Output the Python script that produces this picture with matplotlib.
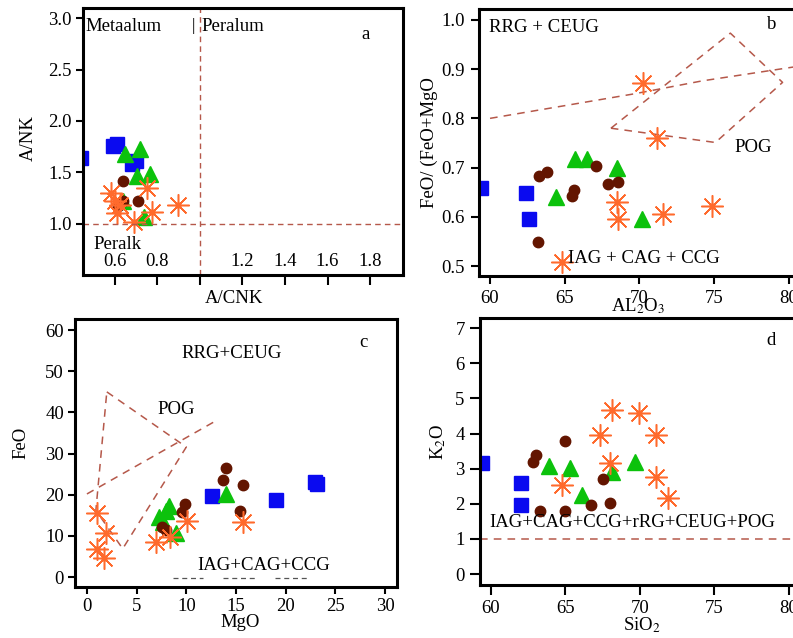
import numpy as np
import matplotlib.pyplot as plt

plt.rcParams["font.family"] = ["Liberation Serif", "DejaVu Serif"]
plt.rcParams["mathtext.fontset"] = "stix"
plt.rcParams["font.size"] = 13.5

# ---- panel a : A/CNK vs A/NK ----
a_sq_x = [0.44, 0.59, 0.61, 0.68, 0.70]
a_sq_y = [1.64, 1.76, 1.78, 1.58, 1.61]
a_tri_x = [0.648, 0.717, 0.704, 0.765, 0.64, 0.736]
a_tri_y = [1.68, 1.73, 1.46, 1.48, 1.22, 1.06]
a_cir_x = [0.637, 0.64, 0.709, 0.616]
a_cir_y = [1.42, 1.22, 1.22, 1.17]
a_ast_x = [0.584, 0.60, 0.608, 0.624, 0.688, 0.752, 0.776, 0.896]
a_ast_y = [1.30, 1.22, 1.10, 1.18, 1.02, 1.35, 1.11, 1.18]

# ---- panel b : Al2O3 vs FeO/(FeO+MgO) ----
b_sq_x = [59.4, 62.4, 62.6]
b_sq_y = [0.658, 0.649, 0.596]
b_tri_x = [65.7, 66.5, 68.5, 64.4, 70.2]
b_tri_y = [0.718, 0.717, 0.700, 0.640, 0.595]
b_cir_x = [63.3, 63.8, 67.1, 65.6, 65.5, 67.9, 68.6, 63.2]
b_cir_y = [0.684, 0.692, 0.704, 0.654, 0.642, 0.666, 0.671, 0.549]
b_ast_x = [70.25, 71.2, 68.5, 68.6, 71.6, 74.9, 64.8]
b_ast_y = [0.871, 0.760, 0.631, 0.595, 0.606, 0.623, 0.509]
b_pog_x = [68.1, 76.1, 79.6, 75.1, 68.1]
b_pog_y = [0.780, 0.973, 0.873, 0.751, 0.780]
b_line_x = [60.0, 69.7, 74.2, 80.5]
b_line_y = [0.800, 0.850, 0.876, 0.905]

# ---- panel c : MgO vs FeO ----
c_sq_x = [12.6, 19.0, 22.9, 23.2]
c_sq_y = [19.6, 18.8, 23.2, 22.6]
c_tri_x = [14.0, 8.3, 8.0, 7.3, 7.7, 9.0]
c_tri_y = [20.2, 17.2, 16.0, 14.5, 13.4, 10.8]
c_cir_x = [14.0, 13.7, 15.7, 9.9, 9.6, 15.4, 7.6, 8.0]
c_cir_y = [26.6, 23.7, 22.3, 17.7, 15.7, 16.0, 12.1, 11.5]
c_ast_x = [1.0, 1.9, 1.0, 1.7, 7.0, 8.4, 10.1, 15.7]
c_ast_y = [15.6, 10.6, 6.8, 4.6, 8.5, 9.8, 13.6, 13.3]
c_pog_x = [2.0, 10.0, 3.6, 0.9, 2.0]
c_pog_y = [45.0, 31.6, 6.9, 16.2, 45.0]
c_line_x = [0.0, 13.0]
c_line_y = [20.2, 38.0]

# ---- panel d : SiO2 vs K2O ----
d_sq_x = [59.4, 62.0, 62.0]
d_sq_y = [3.16, 2.60, 1.97]
d_tri_x = [63.9, 65.3, 66.1, 68.1, 69.7]
d_tri_y = [3.07, 3.01, 2.25, 2.92, 3.18]
d_cir_x = [63.0, 62.8, 65.0, 63.3, 65.0, 66.7, 67.5, 68.0]
d_cir_y = [3.40, 3.18, 3.80, 1.81, 1.81, 1.97, 2.72, 2.02]
d_ast_x = [64.8, 67.3, 68.1, 68.0, 69.95, 71.1, 71.1, 71.9]
d_ast_y = [2.55, 3.96, 4.66, 3.16, 4.58, 3.96, 2.75, 2.17]

BLUE = "#0a0af0"
GREEN = "#0cc20c"
BROWN = "#631500"
ORANGE = "#ff6a2c"
DASH = "#b5584a"
FS = 13.5


def draw_groups(ax, sq, tri, cir, ast):
    ax.plot(*sq, ls="none", marker="s", ms=10, color=BLUE)
    ax.plot(*tri, ls="none", marker="^", ms=11, color=GREEN)
    ax.plot(*cir, ls="none", marker="o", ms=7.5, color=BROWN)
    ax.plot(*ast, ls="none", marker=(8, 2, 0), ms=16, mew=1.1, color=ORANGE)
    ax.plot(*ast, ls="none", marker="o", ms=3.5, color=ORANGE)


def style(ax, tlen=5, tpad=3):
    for s in ax.spines.values():
        s.set_linewidth(2.2)
    ax.tick_params(direction="out", length=tlen, width=1.5, pad=tpad,
                   labelsize=FS)


fig = plt.figure(figsize=(7.93, 6.38), dpi=100)
W, H = 793.0, 638.0


def px_axes(left, top, right, bottom):
    return fig.add_axes([left / W, 1 - bottom / H, (right - left) / W,
                         (bottom - top) / H])


# panel a
ax = px_axes(83, 8, 403, 275)
draw_groups(ax, (a_sq_x, a_sq_y), (a_tri_x, a_tri_y),
            (a_cir_x, a_cir_y), (a_ast_x, a_ast_y))
ax.axhline(1.0, color=DASH, ls=(0, (4, 3)), lw=1)
ax.axvline(1.0, color=DASH, ls=(0, (4, 3)), lw=1)
ax.set_xlim(0.45, 1.955)
ax.set_ylim(0.5, 3.1)
ax.set_xticks([0.6, 0.8, 1.0, 1.2, 1.4, 1.6, 1.8])
ax.set_xticklabels(["0.6", "0.8", "", "1.2", "1.4", "1.6", "1.8"])
ax.set_yticks([1.0, 1.5, 2.0, 2.5, 3.0])
style(ax)
ax.tick_params(axis="x", length=7, pad=-23)
ax.set_xlabel("A/CNK", fontsize=FS)
ax.xaxis.set_label_coords(0.472, -0.055)
ax.set_ylabel("A/NK", fontsize=FS)
ax.yaxis.set_label_coords(-0.145, 0.513)
ax.text(0.46, 2.92, "Metaalum", fontsize=FS, va="center")
ax.text(1.005, 2.92, "Peralum", fontsize=FS, va="center")
ax.text(0.97, 2.92, "|", fontsize=12, va="center", ha="center")
ax.text(1.777, 2.84, "a", fontsize=FS, va="center", ha="center")
ax.text(0.497, 0.8, "Peralk", fontsize=FS, va="center")

# panel b
ax = px_axes(479, 9, 796, 276)
ax.plot(b_pog_x, b_pog_y, color=DASH, ls=(0, (5, 4)), lw=1.1)
ax.plot(b_line_x, b_line_y, color=DASH, ls=(0, (5, 4)), lw=1.1)
draw_groups(ax, (b_sq_x, b_sq_y), (b_tri_x, b_tri_y),
            (b_cir_x, b_cir_y), (b_ast_x, b_ast_y))
ax.set_xlim(59.26, 80.5)
ax.set_ylim(0.48, 1.022)
ax.set_xticks([60, 65, 70, 75, 80])
ax.set_yticks([0.5, 0.6, 0.7, 0.8, 0.9, 1.0])
style(ax, tlen=6, tpad=4)
ax.set_xlabel("AL$_2$O$_3$", fontsize=FS)
ax.xaxis.set_label_coords(0.503, -0.075)
ax.set_ylabel("FeO/ (FeO+MgO", fontsize=FS)
ax.yaxis.set_label_coords(-0.13, 0.498)
ax.text(59.94, 0.984, "RRG + CEUG", fontsize=FS, va="center")
ax.text(78.9, 0.99, "b", fontsize=FS, va="center", ha="center")
ax.text(76.4, 0.74, "POG", fontsize=FS, va="center")
ax.text(65.2, 0.516, "IAG + CAG + CCG", fontsize=FS, va="center")

# panel c
ax = px_axes(75, 319, 397, 587)
ax.plot(c_pog_x, c_pog_y, color=DASH, ls=(0, (5, 4)), lw=1.1)
ax.plot(c_line_x, c_line_y, color=DASH, ls=(0, (5, 4)), lw=1.1)
for x0, x1 in [(8.7, 11.7), (13.7, 17.1), (18.9, 22.2)]:
    ax.plot([x0, x1], [-0.3, -0.3], color="#555555", ls=(0, (4, 3)), lw=0.9)
draw_groups(ax, (c_sq_x, c_sq_y), (c_tri_x, c_tri_y),
            (c_cir_x, c_cir_y), (c_ast_x, c_ast_y))
ax.set_xlim(-1.2, 31.2)
ax.set_ylim(-2.4, 62.7)
ax.set_xticks([0, 5, 10, 15, 20, 25, 30])
ax.set_yticks([0, 10, 20, 30, 40, 50, 60])
style(ax)
ax.set_xlabel("MgO", fontsize=FS)
ax.xaxis.set_label_coords(0.512, -0.1)
ax.set_ylabel("FeO", fontsize=FS)
ax.yaxis.set_label_coords(-0.14, 0.537)
ax.text(9.47, 54.2, "RRG+CEUG", fontsize=FS, va="center")
ax.text(7.06, 40.6, "POG", fontsize=FS, va="center")
ax.text(11.1, 2.85, "IAG+CAG+CCG", fontsize=FS, va="center")
ax.text(27.8, 57.1, "c", fontsize=FS, va="center", ha="center")

# panel d
ax = px_axes(480, 318, 796, 585)
ax.axhline(1.0, color=DASH, ls=(0, (5, 4)), lw=1.1)
draw_groups(ax, (d_sq_x, d_sq_y), (d_tri_x, d_tri_y),
            (d_cir_x, d_cir_y), (d_ast_x, d_ast_y))
ax.set_xlim(59.26, 80.5)
ax.set_ylim(-0.31, 7.29)
ax.set_xticks([60, 65, 70, 75, 80])
ax.set_yticks(np.arange(0, 8))
style(ax, tlen=7, tpad=4)
ax.set_xlabel("SiO$_2$", fontsize=FS)
ax.xaxis.set_label_coords(0.511, -0.115)
ax.set_ylabel("K$_2$O", fontsize=FS)
ax.yaxis.set_label_coords(-0.1, 0.536)
ax.text(59.92, 1.48, "IAG+CAG+CCG+rRG+CEUG+POG", fontsize=FS, va="center")
ax.text(78.85, 6.66, "d", fontsize=FS, va="center", ha="center")

fig.savefig("out.png", dpi=100)
